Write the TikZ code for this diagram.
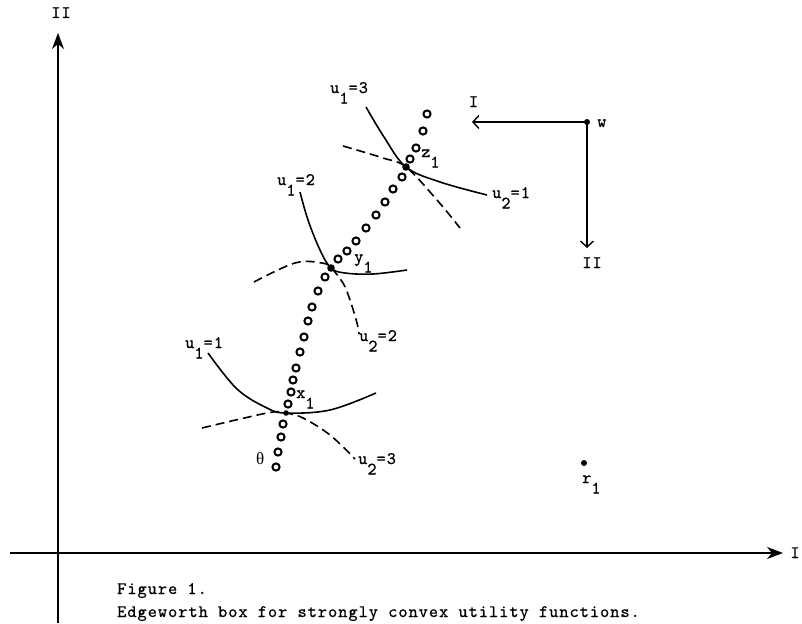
\documentclass[tikz,border=0pt]{standalone}
\usepackage{fontspec}
\newfontfamily\tw{lmmono10-regular.otf}[LetterSpace=5.7, FakeBold=0.7]
\newfontfamily\grk{Liberation Serif}
\usetikzlibrary{arrows.meta}
% typewriter-style subscript: a full-size character set below the line
\newcommand{\lo}[1]{\raisebox{-10.5pt}{#1}}
\begin{document}
\begin{tikzpicture}[x=1pt,y=-1pt,
  every node/.style={font=\tw\fontsize{17.5}{20}\selectfont, inner sep=0pt},
  axis/.style={line width=1.5pt, -{Stealth[length=16pt,width=12pt,inset=5pt]}},
  dirarrow/.style={line width=1.4pt, -{Straight Barb[length=6pt,width=13pt,line width=1.4pt]}},
  ucurve/.style={line width=1.6pt},
  vcurve/.style={line width=1.6pt, dash pattern=on 9pt off 5pt},
  bead/.style={line width=2pt},
  cpoint/.style={fill=black}
]
\useasboundingbox (0,0) rectangle (802,623);

% axes
\coordinate (vbot) at (58,623);
\coordinate (vtop) at (58,33);
\coordinate (hleft) at (10,553);
\coordinate (hright) at (783,553);
\draw[axis] (vbot) -- (vtop);
\draw[axis] (hleft) -- (hright);
\node[anchor=base] (axII) at (61,18) {II};
\node[anchor=base] (axI) at (795,558) {I};

% contract points and endowments
\coordinate (z1) at (406,167);
\coordinate (y1) at (331,268);
\coordinate (x1) at (286,413);
\coordinate (w) at (587,122);
\coordinate (r1) at (584,463);

% second trader's axes at w
\coordinate (wI) at (472,122);
\coordinate (wII) at (587,248);
\draw[dirarrow] (w) -- (wI);
\draw[dirarrow] (w) -- (wII);
\node[anchor=base] (lI) at (473.5,107) {I};
\node[anchor=base] (lII) at (592,268) {II};
\node[anchor=base west] (lw) at (597,127) {w};

% indifference curves of trader 1 (solid)
\draw[ucurve] plot[smooth, tension=0.6] coordinates
  {(366,107) (384,137) (z1) (440,182) (487,195)};
\draw[ucurve] plot[smooth, tension=0.6] coordinates
  {(300,192) (308,220) (320,250) (y1) (345,273) (373,274) (407,270)};
\draw[ucurve] plot[smooth, tension=0.6] coordinates
  {(208,353) (237,389) (267,408) (x1) (330,410) (376,393)};

% indifference curves of trader 2 (dashed)
\draw[vcurve] plot[smooth, tension=0.6] coordinates
  {(343,146) (383,158) (z1) (437,200) (460,228)};
\draw[vcurve] plot[smooth, tension=0.6] coordinates
  {(254,282) (295,263) (322,263) (y1) (343,283) (350,300) (357,323) (359,334)};
\draw[vcurve] plot[smooth, tension=0.6] coordinates
  {(202,428) (240,419) (273,412) (x1) (303,418) (330,435) (355,459)};

% contract curve of circles
\foreach \p in {(427,114),(423,131),(416,148),(410,159),(402,177),(393,189),
  (385,202),(376,215),(366,228),(356,241),(347,251),(338,259),(325,277),
  (318,291),(312,307),(308,321),(304,337),(300,352),(296,368),(293,380),
  (291,392),(288,404),(283,424),(281,437),(278,452),(276,467)}
  \draw[bead] \p circle[radius=3.6];

\fill[cpoint] (z1) circle[radius=3.8];
\fill[cpoint] (y1) circle[radius=3.8];
\fill[cpoint] (x1) circle[radius=2.8];
\fill[cpoint] (w) circle[radius=3];
\fill[cpoint] (r1) circle[radius=3];

% labels
\node[anchor=base west] (lu13) at (330,93) {u\lo{1}=3};
\node[anchor=base west] (lu12) at (277,185) {u\lo{1}=2};
\node[anchor=base west] (lu11) at (185,348) {u\lo{1}=1};
\node[anchor=base west] (lu21) at (492,198) {u\lo{2}=1};
\node[anchor=base west] (lu22) at (359,341) {u\lo{2}=2};
\node[anchor=base west] (lu23) at (358,464) {u\lo{2}=3};
\node[anchor=base west] (lz1) at (421,157) {z\lo{1}};
\node[anchor=base west] (ly1) at (354,262) {y\lo{1}};
\node[anchor=base west] (lx1) at (296,398) {x\lo{1}};
\node[anchor=base west, font=\grk\fontsize{17}{20}\selectfont] (ltheta) at (256,464) {θ};
\node[anchor=base west] (lr1) at (582,483) {r\lo{1}};

% caption
\node[anchor=base west] (cap1) at (117,594) {Figure 1.};
\node[anchor=base west] (cap2) at (117,617) {Edgeworth box for strongly convex utility functions.};
\end{tikzpicture}
\end{document}
